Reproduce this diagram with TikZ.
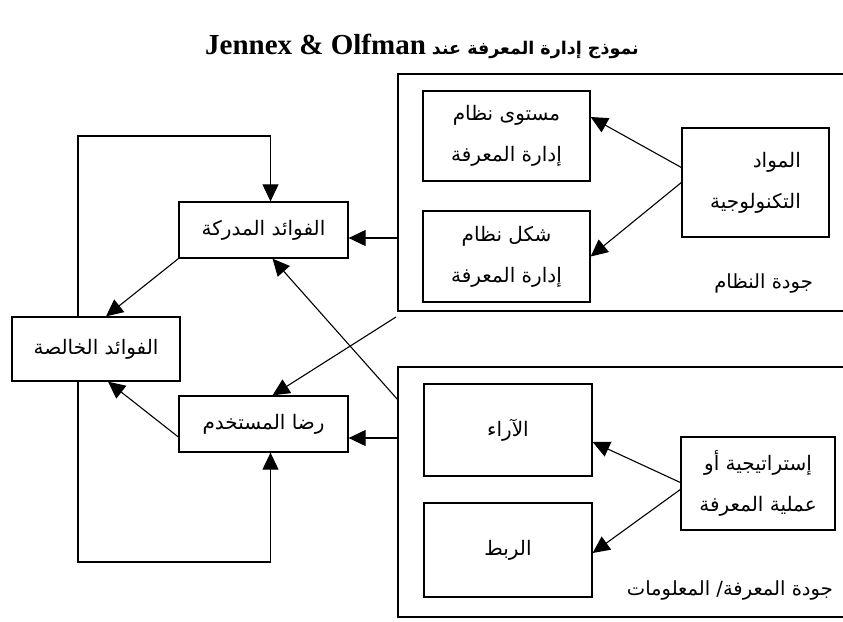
\documentclass[tikz,border=0pt]{standalone}
\usepackage{fontspec}
\usetikzlibrary{arrows.meta}
\TeXXeTstate=1
\newfontfamily\arabicfont[Script=Arabic]{DejaVu Sans}
\newfontfamily\titlefont{Liberation Serif}

\begin{document}
\begin{tikzpicture}[x=1pt, y=-1pt,
    box/.style={draw, line width=1.3pt, inner sep=0pt, align=center,
      font=\arabicfont\fontsize{20}{41}\selectfont},
    lbl/.style={inner sep=0pt, font=\arabicfont\fontsize{19.5}{22}\selectfont},
    frame/.style={line width=1.3pt},
    arr/.style={-{Triangle[length=17pt,width=16pt]}, line width=1.1pt}]
        \useasboundingbox (0,0) rectangle (843,621);

        \node (title) at (422,46) {\arabicfont\bfseries\fontsize{17.5}{22}\selectfont\beginR نموذج إدارة المعرفة عند {\titlefont\fontsize{29}{32}\selectfont\beginL Jennex \& Olfman\endL{}}\endR};

        \draw[frame] (843,74) -- (398,74) -- (398,311) -- (843,311);
        \draw[frame] (843,367) -- (398,367) -- (398,617) -- (843,617);

        \node[box, minimum width=169, minimum height=56] (pb) at (263.5,230) {\beginR الفوائد المدركة\endR};
        \node[box, minimum width=168, minimum height=64] (nb) at (96,349) {\beginR الفوائد الخالصة\endR};
        \node[box, minimum width=169, minimum height=56] (us) at (263.5,424) {\beginR رضا المستخدم\endR};

        \node[box, minimum width=167, minimum height=90] (lvl) at (506.5,136) {\beginR مستوى نظام\endR\\\beginR إدارة المعرفة\endR};
        \node[box, minimum width=167, minimum height=91] (frm) at (506.5,256.5) {\beginR شكل نظام\endR\\\beginR إدارة المعرفة\endR};
        \node[box, minimum width=147, minimum height=109, align=right] (tech) at (755.5,182.5) {\beginR المواد\endR\\\beginR التكنولوجية\endR};
        \node[lbl, anchor=east] (sqlbl) at (813,283) {\beginR جودة النظام\endR};

        \node[box, minimum width=168, minimum height=92] (opin) at (508,430) {\beginR الآراء\endR};
        \node[box, minimum width=168, minimum height=94] (link) at (508,550) {\beginR الربط\endR};
        \node[box, minimum width=154, minimum height=93] (strat) at (758,483.5) {\beginR إستراتيجية أو\endR\\\beginR عملية المعرفة\endR};
        \node[lbl, anchor=east] (kqlbl) at (833,590) {\beginR جودة المعرفة/ المعلومات\endR};

        \coordinate (sqin) at (398,238);
        \coordinate (kqin) at (398,438);
        \coordinate (sqout) at (396,317);
        \coordinate (kqout) at (398,400);
        \coordinate (looptop) at (78,136);
        \coordinate (loopbot) at (78,562);

        \draw[arr] (sqin) -- (sqin -| pb.east);
        \draw[arr] (kqin) -- (kqin -| us.east);
        \draw[arr] (sqout) -- ([xshift=9pt]us.north);
        \draw[arr] (kqout) -- ([xshift=9pt]pb.south);

        \draw[arr] (pb.south west) -- ([xshift=10pt]nb.north);
        \draw[arr] ([yshift=-13pt]us.west) -- ([xshift=12pt]nb.south);
        \draw[arr] (looptop |- nb.north) -- (looptop) -| ([xshift=7pt]pb.north);
        \draw[arr] (loopbot |- nb.south) -- (loopbot) -| ([xshift=7pt]us.south);

        \draw[arr] ([yshift=15pt]tech.west) -- ([yshift=19pt]lvl.east);
        \draw[arr] (tech.west) -- (frm.east);
        \draw[arr] ([yshift=1pt]strat.west) -- ([yshift=-12pt]opin.east);
        \draw[arr] ([yshift=-6pt]strat.west) -- ([yshift=-3pt]link.east);
    \end{tikzpicture}
\end{document}
